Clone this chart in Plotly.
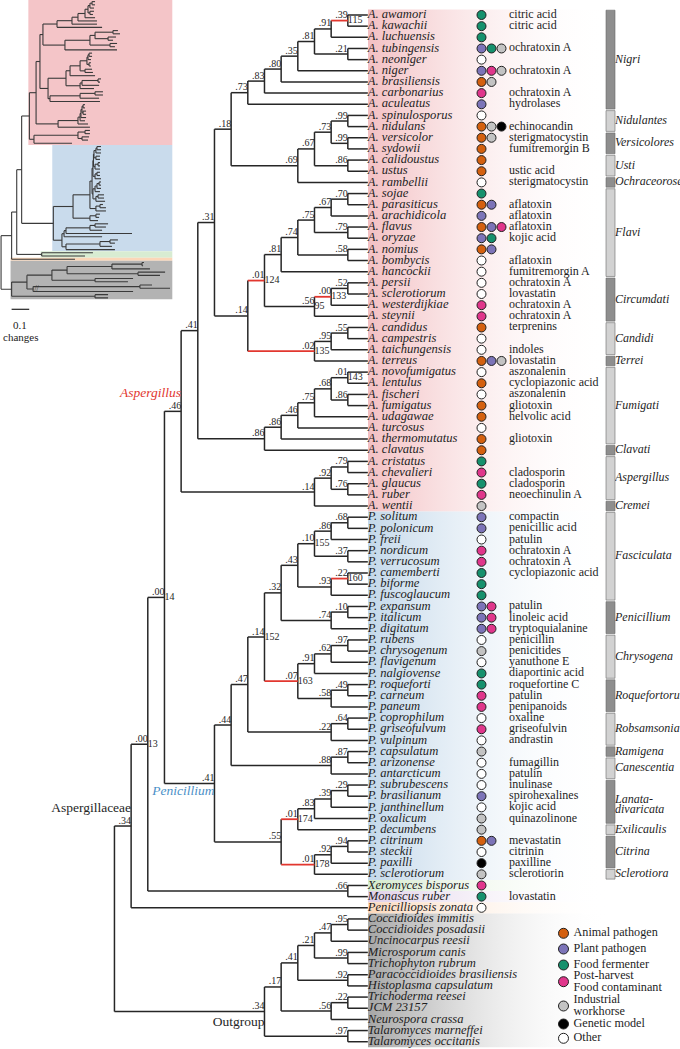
import plotly.graph_objects as go

# ---------------------------------------------------------------- data
species = [
    "A. awamori", "A. kawachii", "A. luchuensis", "A. tubingensis", "A. neoniger", "A. niger",
    "A. brasiliensis", "A. carbonarius", "A. aculeatus",
    "A. spinulosporus", "A. nidulans", "A. versicolor", "A. sydowii", "A. calidoustus", "A. ustus", "A. rambellii",
    "A. sojae", "A. parasiticus", "A. arachidicola", "A. flavus", "A. oryzae", "A. nomius", "A. bombycis", "A. hancockii",
    "A. persii", "A. sclerotiorum", "A. westerdijkiae", "A. steynii", "A. candidus", "A. campestris",
    "A. taichungensis", "A. terreus",
    "A. novofumigatus", "A. lentulus", "A. fischeri", "A. fumigatus", "A. udagawae", "A. turcosus",
    "A. thermomutatus", "A. clavatus",
    "A. cristatus", "A. chevalieri", "A. glaucus", "A. ruber", "A. wentii",
    "P. solitum", "P. polonicum", "P. freii", "P. nordicum", "P. verrucosum", "P. camemberti", "P. biforme",
    "P. fuscoglaucum",
    "P. expansum", "P. italicum", "P. digitatum", "P. rubens", "P. chrysogenum", "P. flavigenum", "P. nalgiovense",
    "P. roqueforti", "P. carneum", "P. paneum", "P. coprophilum", "P. griseofulvum", "P. vulpinum",
    "P. capsulatum", "P. arizonense", "P. antarcticum",
    "P. subrubescens", "P. brasilianum", "P. janthinellum", "P. oxalicum", "P. decumbens", "P. citrinum",
    "P. steckii", "P. paxilli", "P. sclerotiorum",
    "Xeromyces bisporus", "Monascus ruber", "Penicilliopsis zonata",
    "Coccidioides immitis", "Coccidioides posadasii", "Uncinocarpus reesii", "Microsporum canis",
    "Trichophyton rubrum", "Paracoccidioides brasiliensis", "Histoplasma capsulatum", "Trichoderma reesei",
    "JCM 23157", "Neurospora crassa", "Talaromyces marneffei", "Talaromyces occitanis",
]

# lifestyle codes per species (A animal pathogen, P plant pathogen, F food fermenter,
# C post-harvest food contaminant, I industrial workhorse, G genetic model, O other)
lifestyles = [
    "F", "F", "F", "PFI", "O", "PCI", "AI", "C", "P",
    "O", "AIG", "AI", "A", "A", "A", "O",
    "F", "AP", "P", "APC", "PF", "AP", "O", "O",
    "O", "O", "C", "C", "A", "O", "O", "API",
    "O", "A", "O", "A", "A", "O", "A", "A",
    "F", "C", "F", "C", "I",
    "P", "P", "O", "C", "C", "F", "F", "F",
    "PC", "PC", "PC", "O", "I", "O", "F",
    "F", "C", "C", "O", "C", "O", "I", "O", "O",
    "O", "P", "O", "I", "I", "AP", "O", "G", "I",
    "C", "F", "O",
    "", "", "", "", "", "", "", "", "", "", "", "",
]

metabolites = [
    "citric acid", "citric acid", "", "ochratoxin A", "", "ochratoxin A", "", "ochratoxin A", "hydrolases",
    "", "echinocandin", "sterigmatocystin", "fumitremorgin B", "", "ustic acid", "sterigmatocystin",
    "", "aflatoxin", "aflatoxin", "aflatoxin", "kojic acid", "", "aflatoxin", "fumitremorgin A",
    "ochratoxin A", "lovastatin", "ochratoxin A", "ochratoxin A", "terprenins", "", "indoles", "lovastatin",
    "aszonalenin", "cyclopiazonic acid", "aszonalenin", "gliotoxin", "helvolic acid", "", "gliotoxin", "",
    "", "cladosporin", "cladosporin", "neoechinulin A", "",
    "compactin", "penicillic acid", "patulin", "ochratoxin A", "ochratoxin A", "cyclopiazonic acid", "", "",
    "patulin", "linoleic acid", "tryptoquialanine", "penicillin", "penicitides", "yanuthone E", "diaportinic acid",
    "roquefortine C", "patulin", "penipanoids", "oxaline", "griseofulvin", "andrastin", "", "fumagillin", "patulin",
    "inulinase", "spirohexalines", "kojic acid", "quinazolinone", "", "mevastatin", "citrinin", "paxilline",
    "sclerotiorin",
    "", "lovastatin", "",
    "", "", "", "", "", "", "", "", "", "", "", "",
]

# sections: (name, first row, last row)
sections = [
    ("Nigri", 1, 9), ("Nidulantes", 10, 11), ("Versicolores", 12, 13), ("Usti", 14, 15),
    ("Ochraceorosei", 16, 16), ("Flavi", 17, 24), ("Circumdati", 25, 28), ("Candidi", 29, 31),
    ("Terrei", 32, 32), ("Fumigati", 33, 39), ("Clavati", 40, 40), ("Aspergillus", 41, 44),
    ("Cremei", 45, 45), ("Fasciculata", 46, 53), ("Penicillium", 54, 56), ("Chrysogena", 57, 60),
    ("Roquefortorum", 61, 63), ("Robsamsonia", 64, 66), ("Ramigena", 67, 67), ("Canescentia", 68, 69),
    ("Lanata-|divaricata", 70, 73), ("Exilicaulis", 74, 74), ("Citrina", 75, 77), ("Sclerotiora", 78, 78),
]

# clade groups (first row, last row)
groups = {"Aspergillus": (1, 45), "Penicillium": (46, 78), "Xeromyces": (79, 79), "Monascus": (80, 80),
          "Penicilliopsis": (81, 81), "Outgroup": (82, 93), "Aspergillaceae": (1, 81)}

legend_codes = ["A", "P", "F", "C", "I", "G", "O"]
legend_labels = ["Animal pathogen", "Plant pathogen", "Food fermenter", "Post-harvest|Food contaminant",
                 "Industrial|workhorse", "Genetic model", "Other"]

# highlighted (red) branches, identified by the node number printed beside them
highlighted = ["115", "124", "133", "135", "160", "163", "174", "178"]

# Newick clades: leaf = row number; internal label = support[/node number];
# ":value" = cumulative distance from the root in the phylogram inset (changes)
clade_nigri = ("(((((((1:.540,2:.540).39/115:.523,3:.534).91:.511,(4:.534,5:.528).21:.511).81:.500,"
               "6:.540).35:.483,7:.551).80:.443,8:.551).83:.409,9:.580).73:.324")
clade_nidulantes = ("((((10:.670,11:.682).99:.642,(12:.659,13:.642).99:.614).73:.540,"
                    "(14:.665,15:.653).86:.625).67:.511,16:.665).69:.369")
clade_flavi = ("(((((17:.523,18:.523).70:.506,19:.517).67:.500,(20:.517,21:.517).79:.506).75:.494,"
               "(22:.523,23:.528).58:.483).74:.455,24:.540).81:.398")
clade_circumdati = "(((25:.574,26:.568).52:.557,27:.563).00/133:.466,28:.534).56/95:.455"
clade_candidi = "(((29:.585,30:.585).55:.540,31:.563).95:.455,32:.568).02/135:.284"
clade_fumigati = ("((((((33:.483,34:.483).01/143:.472,(35:.489,36:.489).86:.472).68:.466,37:.489).75:.460,"
                  "38:.483).46:.455,39:.500).86:.443,40:.511).86:.330")
clade_aspergillus = "(((41:.511,42:.511).79:.483,(43:.506,44:.500).76:.466).92:.443,45:.409).14:.193"
clade_fasciculata = ("((((46:.574,47:.574).68:.551,48:.574).86:.545,(49:.568,50:.568).37:.545).10/155:.534,"
                     "((51:.568,52:.568).22/160:.557,53:.568).93:.540).43:.531")
clade_penicillium = "((54:.568,55:.568).10:.551,56:.574).74:.540"
clade_chrysogena = "(((57:.574,58:.574).97:.563,59:.574).62:.551,60:.568).91:.540"
clade_roquefortorum = "((61:.591,62:.591).49:.557,63:.597).58:.545"
clade_robsamsonia = "((64:.585,65:.602).64:.568,66:.602).22:.545"
clade_canescentia = "((67:.568,68:.563).87:.545,69:.557).88:.511"
clade_lanata = "((((70:.614,71:.602).29:.540,72:.580).39:.511,73:.750).83:.375,74:.580).01/174:.364"
clade_citrina = "(((75:.670,76:.653).94:.625,77:.636).92:.568,78:.653).01/178:.375"
clade_outgroup = ("((((((82:.818,83:.813).95:.807,84:.852).47:.636,(85:.938,86:.909).99:.784).21:.381,"
                  "(87:.756,88:.727).92:.540).41:.295,((89:.864,90:.966).22:.795,91:.756).56:.188).17:.153,"
                  "(92:.614,93:.614).97:.540).34:.066")

A18 = f"({clade_nigri},{clade_nidulantes}).18:.244"
A124 = f"({clade_flavi},{clade_circumdati}).01/124:.375"
A14 = f"({A124},{clade_candidi}).14:.273"
A31 = f"({A18},{A14}).31:.227"
A41 = f"({A31},{clade_fumigati}).41:.205"
A46 = f"({A41},{clade_aspergillus}).46:.167"
P32 = f"({clade_fasciculata},{clade_penicillium}).32:.528"
P07 = f"({clade_chrysogena},{clade_roquefortorum}).07/163:.528"
P14 = f"({P32},{P07}).14/152:.523"
P47 = f"({P14},{clade_robsamsonia}).47:.511"
P44 = f"({P47},{clade_canescentia}).44:.415"
P55 = f"({clade_lanata},{clade_citrina}).55:.352"
PEN = f"({P44},{P55}).41:.303"
N14 = f"({A46},{PEN}).00/14:.123"
N13 = f"({N14},(79:.528,80:.483).66:.237).00/13:.095"
ASP = f"({N13},81:.426).34:.066"
TREE = f"({ASP},{clade_outgroup}):.006"

SCALE_BAR = 0.1  # changes

# ---------------------------------------------------------------- styles / layout constants
W, H = 680, 1049
X0_PX, X_UNIT = 364.5, 16.67          # main cladogram: px = X0_PX + X_UNIT * x
Y0_PX, Y_UNIT = 15.0, 11.16           # row r: px = Y0_PX + (r-1) * Y_UNIT
SERIF = "Liberation Serif"
INK = "#262626"
RED = "#e2372f"
COLORS = {"A": "#d4600f", "P": "#7c74b8", "F": "#16916d", "C": "#e0368b",
          "I": "#c3c3c3", "G": "#000000", "O": "#ffffff"}
BAND = {"Aspergillus": "#f3c0c3", "Penicillium": "#c3d8ea", "Xeromyces": "#d5ebcd",
        "Monascus": "#e0d0e8", "Penicilliopsis": "#fbd8bb", "Outgroup": "#a6a6a6"}
INSET_BG = {"Aspergillus": "#f4c5c8", "Penicillium": "#c9dbec", "Xeromyces": "#d8ecd2",
            "Penicilliopsis": "#fbd6b8", "Outgroup": "#b3b3b3"}


def px_x(px):
    return (px - X0_PX) / X_UNIT


def px_row(py):
    return (py - Y0_PX) / Y_UNIT + 1


# ---------------------------------------------------------------- parse tree
def parse(s):
    pos = 0

    def node():
        nonlocal pos
        kids = []
        if s[pos] == "(":
            pos += 1
            kids.append(node())
            while s[pos] == ",":
                pos += 1
                kids.append(node())
            pos += 1  # ')'
        st = pos
        while pos < len(s) and s[pos] not in ",():":
            pos += 1
        label = s[st:pos]
        dist = 0.0
        if pos < len(s) and s[pos] == ":":
            pos += 1
            st = pos
            while pos < len(s) and s[pos] not in ",()":
                pos += 1
            dist = float(s[st:pos])
        return {"kids": kids, "label": label, "dist": dist}

    return node()


root = parse(TREE)
nodes = []


def lay(n):
    if not n["kids"]:
        n["row"] = int(n["label"])
        n["h"] = 0
        n["lo"] = n["hi"] = n["row"]
        n["support"], n["extra"] = "", ""
    else:
        for k in n["kids"]:
            lay(k)
        n["h"] = max(k["h"] for k in n["kids"]) + 1
        n["row"] = (n["kids"][0]["row"] + n["kids"][-1]["row"]) / 2
        n["lo"], n["hi"] = n["kids"][0]["lo"], n["kids"][-1]["hi"]
        parts = n["label"].split("/")
        n["support"] = parts[0]
        n["extra"] = parts[1] if len(parts) > 1 else ""
    n["x"] = -n["h"] if n["kids"] else 0.2
    nodes.append(n)


lay(root)


def find(lo, hi):
    best = None
    for n in nodes:
        if n["lo"] == lo and n["hi"] == hi:
            if n["kids"] or lo == hi:
                best = n
    return best


fig = go.Figure()

# ---------------------------------------------------------------- background bands (gradient)
for g, col in BAND.items():
    lo, hi = groups[g]
    x0, x1 = px_x(368), px_x(608)
    y0, y1 = lo - 0.5, hi + 0.5
    fig.add_trace(go.Scatter(
        x=[x0, x1, x1, x0, x0], y=[y0, y0, y1, y1, y0], mode="lines", line=dict(width=0),
        fill="toself", fillgradient=dict(type="horizontal", colorscale=[[0, col], [1, "rgba(255,255,255,0)"]]),
        hoverinfo="skip", showlegend=False))

# ---------------------------------------------------------------- main tree segments
bx, by, rx, ry = [], [], [], []
for n in nodes:
    if not n["kids"]:
        continue
    bx += [n["x"], n["x"], None]
    by += [n["kids"][0]["row"], n["kids"][-1]["row"], None]
    for k in n["kids"]:
        if k["extra"] in highlighted:
            rx += [n["x"], k["x"], None]
            ry += [k["row"], k["row"], None]
        else:
            bx += [n["x"], k["x"], None]
            by += [k["row"], k["row"], None]
fig.add_trace(go.Scatter(x=bx, y=by, mode="lines", line=dict(color=INK, width=1.5),
                         hoverinfo="skip", showlegend=False))
fig.add_trace(go.Scatter(x=rx, y=ry, mode="lines", line=dict(color=RED, width=1.8),
                         hoverinfo="skip", showlegend=False))

# support labels and node numbers
inner = [n for n in nodes if n["kids"] and n["support"]]
fig.add_trace(go.Scatter(
    x=[n["x"] for n in inner], y=[n["row"] for n in inner], text=[n["support"] for n in inner],
    mode="text", textposition="top left", textfont=dict(family=SERIF, size=10, color=INK),
    hoverinfo="skip", showlegend=False))
ext = [n for n in nodes if n["extra"]]
fig.add_trace(go.Scatter(
    x=[n["x"] for n in ext], y=[n["row"] for n in ext], text=[n["extra"] for n in ext],
    mode="text", textposition="middle right", textfont=dict(family=SERIF, size=10, color=INK),
    hoverinfo="skip", showlegend=False))

# clade names
clade_texts = [("Aspergillus", "Aspergillus", -1.6, RED, "italic"),
               ("Penicillium", "Penicillium", 0.75, "#4a8fc7", "italic"),
               ("Aspergillaceae", "Aspergillaceae", -1.6, INK, "normal"),
               ("Outgroup", "Outgroup", 1.0, INK, "normal")]
for g, txt, dy, col, sty in clade_texts:
    n = find(*groups[g])
    fig.add_trace(go.Scatter(x=[n["x"]], y=[n["row"] + dy], text=[txt], mode="text",
                             textposition="middle left",
                             textfont=dict(family=SERIF, size=13.5, color=col, style=sty),
                             hoverinfo="skip", showlegend=False))

# species names
rows = list(range(1, len(species) + 1))
fig.add_trace(go.Scatter(x=[0.2] * len(species), y=rows, text=species, mode="text",
                         textposition="middle right",
                         textfont=dict(family=SERIF, size=12.6, color="#1e1e1e", style="italic"),
                         hoverinfo="skip", showlegend=False))

# lifestyle circles
cx0, cstep = px_x(481.5), 10 / X_UNIT
for code, col in COLORS.items():
    xs, ys = [], []
    for r, ls in zip(rows, lifestyles):
        for j, c in enumerate(ls):
            if c == code:
                xs.append(cx0 + j * cstep)
                ys.append(r)
    fig.add_trace(go.Scatter(x=xs, y=ys, mode="markers",
                             marker=dict(size=9, color=col, line=dict(color="#202020", width=1)),
                             hoverinfo="skip", showlegend=False))

# metabolites
fig.add_trace(go.Scatter(x=[px_x(509)] * len(metabolites), y=rows, text=metabolites, mode="text",
                         textposition="middle right", textfont=dict(family=SERIF, size=12, color="#1e1e1e"),
                         hoverinfo="skip", showlegend=False))

# section bars and labels
shapes = []
sx, sy, st = [], [], []
for i, (name, lo, hi) in enumerate(sections):
    shapes.append(dict(type="rect", xref="x", yref="y", x0=px_x(606), x1=px_x(615), y0=lo - 0.43, y1=hi + 0.43,
                       fillcolor="#8e8e8e" if i % 2 == 0 else "#d2d2d2", line=dict(color="#6a6a6a", width=0.6),
                       layer="above"))
    lines = name.split("|")
    c = (lo + hi) / 2
    if len(lines) == 2:
        sx += [px_x(615), px_x(615)]
        sy += [c + 0.3 - 0.45, c + 0.3 + 0.45]
        st += lines
    else:
        sx.append(px_x(615))
        sy.append(c)
        st.append(name)
fig.add_trace(go.Scatter(x=sx, y=sy, text=st, mode="text", textposition="middle right",
                         textfont=dict(family=SERIF, size=12, color="#1e1e1e", style="italic"),
                         hoverinfo="skip", showlegend=False))

# legend
legend_px = [933.3, 949.0, 965.0, 981.7, 1006.0, 1024.0, 1038.3]
lx, ly, lc = [], [], []
tx, ty, tt = [], [], []
for code, lab, ypx in zip(legend_codes, legend_labels, legend_px):
    lx.append(px_x(563.5))
    ly.append(px_row(ypx))
    lc.append(COLORS[code])
    parts = lab.split("|")
    if len(parts) == 2:
        tx += [px_x(573.5), px_x(573.5)]
        ty += [px_row(ypx - 6.2), px_row(ypx + 6.2)]
        tt += parts
    else:
        tx.append(px_x(573.5))
        ty.append(px_row(ypx))
        tt.append(lab)
fig.add_trace(go.Scatter(x=lx, y=ly, mode="markers",
                         marker=dict(size=10, color=lc, line=dict(color="#202020", width=1)),
                         hoverinfo="skip", showlegend=False))
fig.add_trace(go.Scatter(x=tx, y=ty, text=tt, mode="text", textposition="middle right",
                         textfont=dict(family=SERIF, size=12.2, color="#1e1e1e"),
                         hoverinfo="skip", showlegend=False))

# ---------------------------------------------------------------- inset phylogram
IN_W, IN_H = 173, 299.5
for g, col in INSET_BG.items():
    lo, hi = groups[g]
    n = find(lo, hi)
    x0 = n["dist"] - 0.006
    if g == "Xeromyces":
        x0 = find(79, 80)["dist"] - 0.006
        hi = 80
    if g == "Penicilliopsis":
        x0 = find(1, 81)["dist"] - 0.006
    shapes.append(dict(type="rect", xref="x2", yref="y2", x0=x0, x1=0.979, y0=lo - 0.5, y1=hi + 0.5,
                       fillcolor=col, line=dict(width=0), layer="below"))

ix, iy = [], []
for n in nodes:
    if not n["kids"]:
        continue
    ix += [n["dist"], n["dist"], None]
    iy += [n["kids"][0]["row"], n["kids"][-1]["row"], None]
    for k in n["kids"]:
        ix += [n["dist"], k["dist"], None]
        iy += [k["row"], k["row"], None]
fig.add_trace(go.Scatter(x=ix, y=iy, mode="lines", line=dict(color="#3a3a3a", width=1.1),
                         xaxis="x2", yaxis="y2", hoverinfo="skip", showlegend=False))
brk = find(89, 91)
fig.add_trace(go.Scatter(x=[brk["dist"] + 0.02], y=[brk["row"]], text=["//"], mode="text",
                         textfont=dict(family=SERIF, size=8, color="#333"),
                         xaxis="x2", yaxis="y2", hoverinfo="skip", showlegend=False))

# scale bar
sb_x0 = 0.066
shapes.append(dict(type="line", xref="x2", yref="paper", x0=sb_x0, x1=sb_x0 + SCALE_BAR,
                   y0=1 - 309.3 / H, y1=1 - 309.3 / H, line=dict(color="#222", width=1.2)))
annotations = [
    dict(xref="x2", yref="paper", x=sb_x0 + SCALE_BAR / 2, y=1 - 317 / H, text="0.1", showarrow=False,
         font=dict(family=SERIF, size=11, color="#222")),
    dict(xref="x2", yref="paper", x=sb_x0 + SCALE_BAR / 2, y=1 - 329 / H, text="changes", showarrow=False,
         font=dict(family=SERIF, size=11, color="#222")),
]

fig.update_layout(
    width=W, height=H, margin=dict(l=0, r=0, t=0, b=0),
    paper_bgcolor="white", plot_bgcolor="rgba(0,0,0,0)",
    xaxis=dict(range=[px_x(0), px_x(W)], visible=False, domain=[0, 1]),
    yaxis=dict(range=[px_row(H), px_row(0)], visible=False, domain=[0, 1]),
    xaxis2=dict(range=[0, IN_W / 176.0], visible=False, domain=[0, IN_W / W], anchor="y2"),
    yaxis2=dict(range=[93.5, 0.5], visible=False, domain=[1 - IN_H / H, 1], anchor="x2"),
    shapes=shapes, annotations=annotations, showlegend=False,
)

fig.write_html("out.html", config={"displayModeBar": False},
               post_script="document.body.style.margin='0';")
